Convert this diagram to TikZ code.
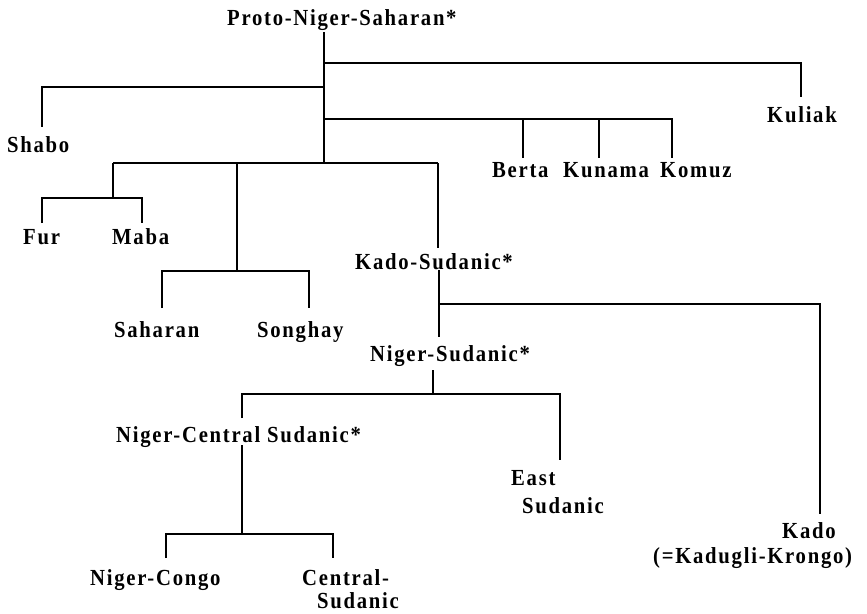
\documentclass[tikz,border=0pt]{standalone}
\usepackage{fontspec}
\setmainfont{Liberation Serif}[LetterSpace=7.5, FakeStretch=0.9]
\begin{document}
\begin{tikzpicture}[x=1pt,y=-1pt,
  lbl/.style={anchor=base west, inner sep=0pt, font=\fontsize{23}{25}\selectfont\bfseries},
  branch/.style={line width=2.2pt, line join=miter}]
\useasboundingbox (0,0) rectangle (867,613);

% ---- labels (placed by the left end of their baseline) ----
\node[lbl] (pns)    at (227,25)  {Proto-Niger-Saharan*};
\node[lbl] (kuliak) at (767,122) {Kuliak};
\node[lbl] (shabo)  at (7,152)   {Shabo};
\node[lbl] (berta)  at (492,177) {Berta};
\node[lbl] (kunama) at (563,177) {Kunama};
\node[lbl] (komuz)  at (660,177) {Komuz};
\node[lbl] (fur)    at (23,244)  {Fur};
\node[lbl] (maba)   at (112,244) {Maba};
\node[lbl] (sahar)  at (114,337) {Saharan};
\node[lbl] (song)   at (257,337) {Songhay};
\node[lbl] (ks)     at (355,269) {Kado-Sudanic*};
\node[lbl] (ns)     at (370,361) {Niger-Sudanic*};
\node[lbl] (ncs)    at (116,442) {Niger-Central Sudanic*};
\node[lbl] (eastA)  at (511,485) {East};
\node[lbl] (eastB)  at (522,513) {Sudanic};
\node[lbl] (kadoA)  at (782,538) {Kado};
\node[lbl] (kadoB)  at (653,563) {(=Kadugli-Krongo)};
\node[lbl] (nc)     at (90,585)  {Niger-Congo};
\node[lbl] (csA)    at (302,585) {Central-};
\node[lbl] (csB)    at (317,608) {Sudanic};

% ---- junction points of the tree ----
\coordinate (root)   at (324,32);
\coordinate (jKul)   at (324,63);
\coordinate (jSha)   at (324,87);
\coordinate (jBKK)   at (324,119);
\coordinate (jLow)   at (324,163);
\coordinate (jFM)    at (113,163);
\coordinate (jSS)    at (237,163);
\coordinate (jKS)    at (438,163);
\coordinate (ksTop)  at (438,248);
\coordinate (ksBot)  at (439,270);
\coordinate (jKado)  at (439,304);
\coordinate (ksEnd)  at (439,337);
\coordinate (nsBot)  at (433,370);
\coordinate (jNS)    at (433,394);
\coordinate (ncsTop) at (242,418);
\coordinate (ncsBot) at (242,445);
\coordinate (jNCS)   at (242,534);

% ---- free ends of the branches above each label ----
\coordinate (eKul)   at (801,97);
\coordinate (eSha)   at (42,127);
\coordinate (eBer)   at (523,158);
\coordinate (eKun)   at (599,158);
\coordinate (eKom)   at (672,158);
\coordinate (jFMbar) at (113,198);
\coordinate (eFur)   at (42,223);
\coordinate (eMab)   at (142,223);
\coordinate (jSSbar) at (237,271);
\coordinate (eSah)   at (162,308);
\coordinate (eSon)   at (309,308);
\coordinate (eKado)  at (820,514);
\coordinate (eEast)  at (560,460);
\coordinate (eNC)    at (166,558);
\coordinate (eCS)    at (333,558);

% ---- branches ----
\draw[branch] (root) -- (jLow);
\draw[branch] (jKul) -| (eKul);
\draw[branch] (jSha) -| (eSha);
\draw[branch] (jBKK) -| (eKom);
\draw[branch] (eBer |- jBKK) -- (eBer);
\draw[branch] (eKun |- jBKK) -- (eKun);
\draw[branch] (jFM) -- (jKS);
\draw[branch] (jFM) -- (jFMbar);
\draw[branch] (eFur) |- (jFMbar) -| (eMab);
\draw[branch] (jSS) -- (jSSbar);
\draw[branch] (eSah) |- (jSSbar) -| (eSon);
\draw[branch] (jKS) -- (ksTop);
\draw[branch] (ksBot) -- (ksEnd);
\draw[branch] (jKado) -| (eKado);
\draw[branch] (nsBot) -- (jNS);
\draw[branch] (ncsTop) |- (jNS) -| (eEast);
\draw[branch] (ncsBot) -- (jNCS);
\draw[branch] (eNC) |- (jNCS) -| (eCS);
\end{tikzpicture}
\end{document}
